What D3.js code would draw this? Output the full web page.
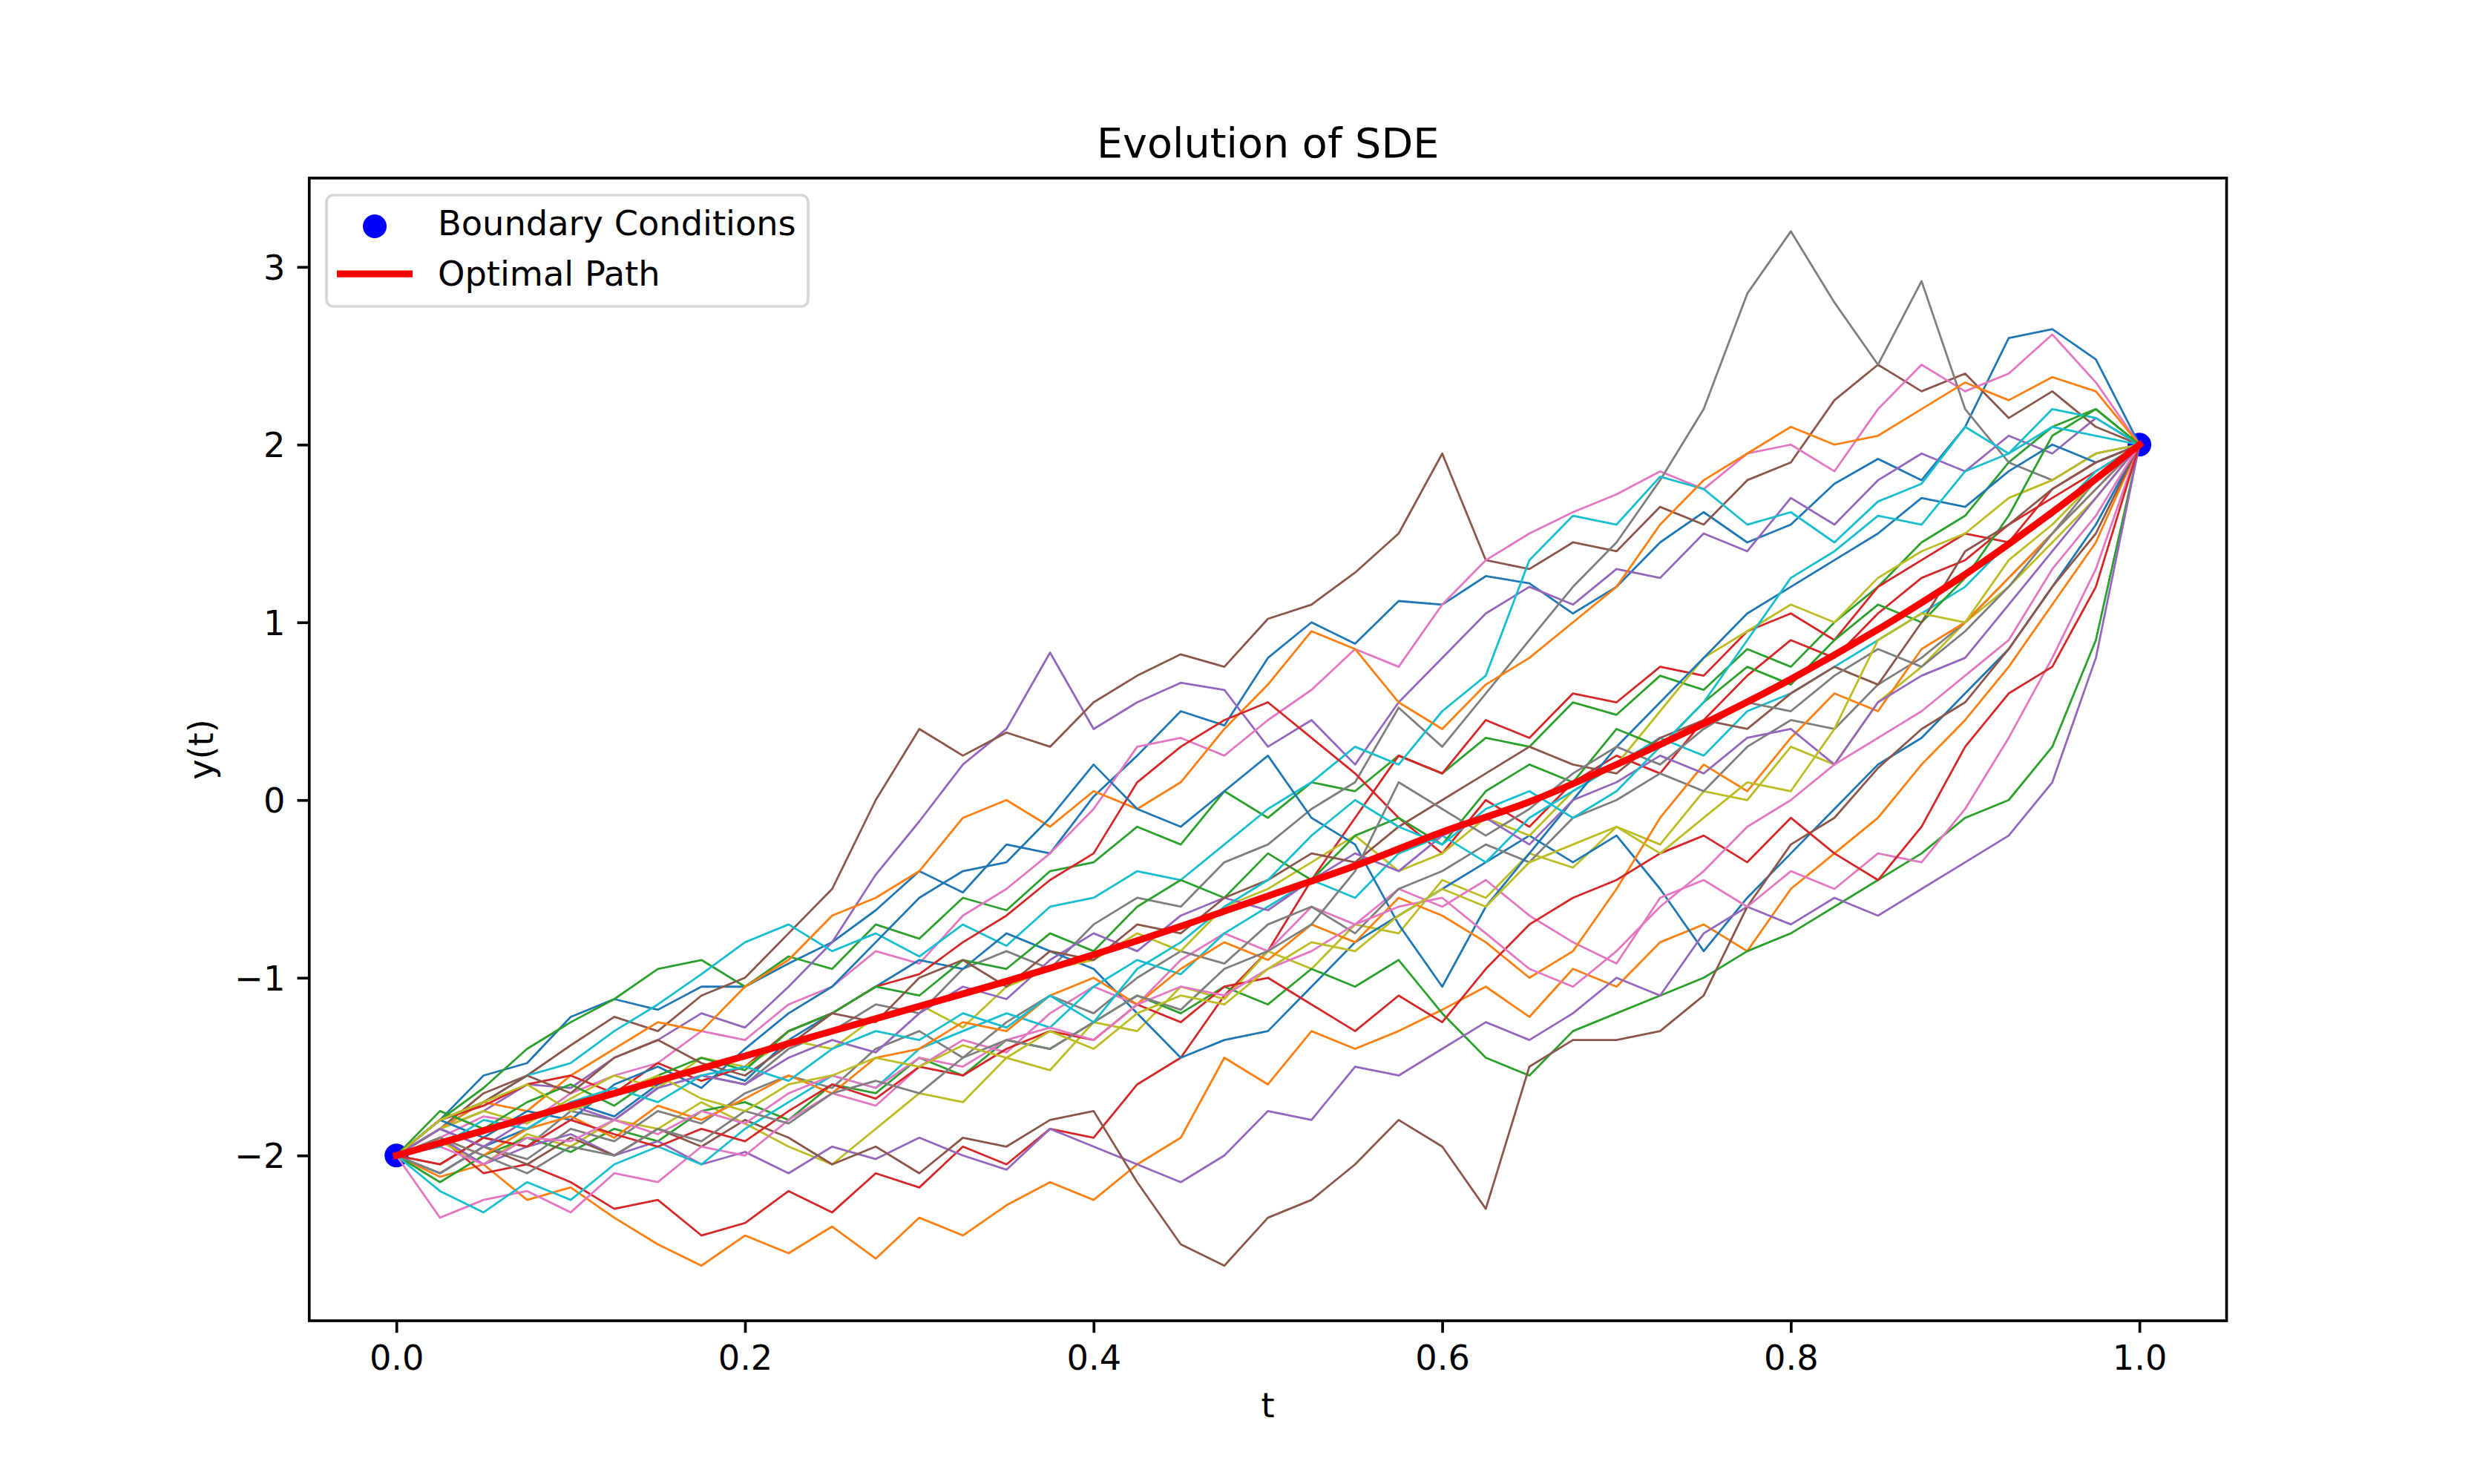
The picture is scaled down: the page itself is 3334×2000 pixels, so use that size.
<!DOCTYPE html>
<html>
<head>
<meta charset="utf-8">
<script src="https://cdn.jsdelivr.net/npm/d3@7"></script>
<style>
  body { margin: 0; background: #fff; }
  text { font-family: "DejaVu Sans", sans-serif; }
</style>
</head>
<body>
<div id="chart"></div>
<script>
// time grid of the sampled paths
const tGrid = [0, 0.025, 0.05, 0.075, 0.1, 0.125, 0.15, 0.175, 0.2, 0.225,
  0.25, 0.275, 0.3, 0.325, 0.35, 0.375, 0.4, 0.425, 0.45, 0.475,
  0.5, 0.525, 0.55, 0.575, 0.6, 0.625, 0.65, 0.675, 0.7, 0.725,
  0.75, 0.775, 0.8, 0.825, 0.85, 0.875, 0.9, 0.925, 0.95, 0.975, 1.0];

// simulated paths
const path00 = [-2.00,-1.80,-1.55,-1.48,-1.22,-1.12,-1.18,-1.05,-1.05,-0.92, -0.80,-0.62,-0.40,-0.52,-0.25,-0.30,0.02,0.25,0.50,0.42, 0.80,1.00,0.88,1.12,1.10,1.26,1.22,1.05,1.20,1.45, 1.62,1.45,1.55,1.78,1.92,1.80,2.10,2.60,2.65,2.48, 2.00];
const path01 = [-2.00,-2.12,-2.05,-2.25,-2.18,-2.35,-2.50,-2.62,-2.45,-2.55, -2.40,-2.58,-2.35,-2.45,-2.28,-2.15,-2.25,-2.05,-1.90,-1.45, -1.60,-1.30,-1.40,-1.30,-1.18,-1.05,-1.22,-0.95,-1.05,-0.80, -0.70,-0.85,-0.50,-0.30,-0.10,0.20,0.45,0.75,1.10,1.45, 2.00];
const path02 = [-2.00,-1.80,-1.62,-1.40,-1.25,-1.12,-0.95,-0.90,-1.05,-0.88, -0.95,-0.70,-0.78,-0.55,-0.62,-0.40,-0.35,-0.15,-0.25,0.05, -0.10,0.10,0.05,0.25,0.15,0.35,0.30,0.55,0.48,0.70, 0.62,0.85,0.75,1.00,1.20,1.45,1.60,1.90,2.10,2.20, 2.00];
const path03 = [-2.00,-1.90,-2.10,-2.05,-2.15,-2.30,-2.25,-2.45,-2.38,-2.20, -2.32,-2.10,-2.18,-1.95,-2.05,-1.85,-1.90,-1.60,-1.45,-1.10, -0.85,-0.45,-0.10,0.25,0.15,0.45,0.35,0.60,0.55,0.75, 0.70,0.95,1.05,0.90,1.20,1.35,1.50,1.45,1.75,1.90, 2.00];
const path04 = [-2.00,-1.85,-1.75,-1.60,-1.62,-1.45,-1.35,-1.20,-1.28,-1.05, -0.80,-0.42,-0.12,0.20,0.40,0.83,0.40,0.55,0.66,0.62, 0.30,0.45,0.20,0.55,0.80,1.05,1.20,1.10,1.30,1.25, 1.50,1.40,1.70,1.55,1.80,1.95,1.85,2.05,1.95,2.15, 2.00];
const path05 = [-2.00,-1.85,-1.65,-1.55,-1.38,-1.22,-1.30,-1.10,-1.00,-0.75, -0.50,0.00,0.40,0.25,0.38,0.30,0.55,0.70,0.82,0.75, 1.02,1.10,1.28,1.50,1.95,1.35,1.30,1.45,1.40,1.65, 1.55,1.80,1.90,2.25,2.45,2.30,2.40,2.15,2.30,2.10, 2.00];
const path06 = [-2.00,-1.90,-1.78,-1.82,-1.65,-1.55,-1.48,-1.30,-1.35,-1.15, -1.05,-0.85,-0.92,-0.65,-0.50,-0.30,-0.05,0.30,0.35,0.25, 0.45,0.62,0.85,0.75,1.10,1.35,1.50,1.62,1.72,1.85, 1.75,1.95,2.00,1.85,2.20,2.45,2.30,2.40,2.62,2.35, 2.00];
const path07 = [-2.00,-2.05,-1.90,-1.95,-1.75,-1.80,-1.62,-1.55,-1.60,-1.40, -1.30,-1.15,-1.20,-0.95,-0.85,-0.95,-0.70,-0.55,-0.60,-0.35, -0.25,-0.05,0.10,0.52,0.30,0.60,0.90,1.20,1.45,1.80, 2.20,2.85,3.20,2.80,2.45,2.92,2.20,1.90,1.80,1.95, 2.00];
const path08 = [-2.00,-1.92,-2.05,-1.88,-1.95,-1.80,-1.85,-1.70,-1.82,-1.95, -2.05,-1.85,-1.65,-1.70,-1.45,-1.52,-1.25,-1.30,-1.05,-1.12, -0.85,-0.95,-0.70,-0.75,-0.45,-0.55,-0.30,-0.38,-0.15,-0.25, 0.05,0.00,0.30,0.20,0.55,0.75,1.00,1.20,1.45,1.70, 2.00];
const path09 = [-2.00,-1.85,-1.70,-1.55,-1.48,-1.30,-1.15,-0.98,-0.80,-0.70, -0.85,-0.75,-0.88,-0.70,-0.82,-0.60,-0.55,-0.40,-0.45,-0.25, -0.05,0.10,0.30,0.20,0.50,0.70,1.35,1.60,1.55,1.82, 1.75,1.55,1.62,1.45,1.68,1.78,2.10,1.95,2.20,2.15, 2.00];
const path10 = [-2.00,-2.10,-1.95,-1.85,-1.70,-1.78,-1.60,-1.50,-1.58,-1.35, -1.20,-1.05,-0.90,-0.95,-0.75,-0.85,-0.95,-1.20,-1.45,-1.35, -1.30,-1.05,-0.80,-0.65,-0.50,-0.35,-0.20,-0.35,-0.20,-0.50, -0.85,-0.55,-0.30,-0.05,0.20,0.35,0.60,0.85,1.20,1.55, 2.00];
const path11 = [-2.00,-1.85,-1.70,-1.75,-1.55,-1.40,-1.25,-1.30,-1.05,-0.90, -0.65,-0.55,-0.40,-0.10,0.00,-0.15,0.05,-0.05,0.10,0.40, 0.65,0.95,0.85,0.55,0.40,0.65,0.80,1.00,1.20,1.55, 1.80,1.95,2.10,2.00,2.05,2.20,2.35,2.25,2.38,2.30, 2.00];
const path12 = [-2.00,-2.15,-2.00,-1.90,-1.98,-1.85,-1.92,-1.75,-1.70,-1.80, -1.60,-1.65,-1.45,-1.55,-1.35,-1.40,-1.25,-1.10,-1.20,-1.05, -1.15,-0.95,-1.05,-0.90,-1.20,-1.45,-1.55,-1.30,-1.20,-1.10, -1.00,-0.85,-0.75,-0.60,-0.45,-0.30,-0.10,0.00,0.30,0.90, 2.00];
const path13 = [-2.00,-1.80,-1.72,-1.60,-1.55,-1.65,-1.48,-1.58,-1.50,-1.30, -1.20,-1.05,-0.98,-0.80,-0.65,-0.45,-0.30,0.10,0.30,0.45, 0.55,0.35,0.15,-0.10,-0.30,0.00,-0.15,0.10,0.25,0.15, 0.45,0.70,0.90,0.80,1.05,1.25,1.35,1.55,1.70,1.85, 2.00];
const path14 = [-2.00,-1.90,-2.05,-1.95,-1.88,-2.00,-1.92,-2.05,-1.98,-2.10, -1.95,-2.02,-1.90,-2.00,-2.08,-1.85,-1.95,-2.05,-2.15,-2.00, -1.75,-1.80,-1.50,-1.55,-1.40,-1.25,-1.35,-1.20,-1.00,-1.10, -0.75,-0.60,-0.70,-0.55,-0.65,-0.50,-0.35,-0.20,0.10,0.80, 2.00];
const path15 = [-2.00,-1.85,-1.95,-2.05,-1.90,-2.00,-1.85,-1.95,-1.80,-1.90, -2.05,-1.95,-2.10,-1.90,-1.95,-1.80,-1.75,-2.15,-2.50,-2.62, -2.35,-2.25,-2.05,-1.80,-1.95,-2.30,-1.50,-1.35,-1.35,-1.30, -1.10,-0.60,-0.25,-0.10,0.18,0.40,0.55,0.85,1.20,1.50, 2.00];
const path16 = [-2.00,-2.35,-2.25,-2.20,-2.32,-2.10,-2.15,-1.95,-2.00,-1.80, -1.65,-1.72,-1.50,-1.35,-1.42,-1.20,-1.05,-1.15,-0.90,-0.75, -0.85,-0.60,-0.70,-0.50,-0.60,-0.45,-0.65,-0.80,-0.92,-0.55, -0.45,-0.60,-0.40,-0.50,-0.30,-0.35,-0.05,0.35,0.80,1.30, 2.00];
const path17 = [-2.00,-2.10,-1.95,-2.02,-1.85,-1.92,-1.75,-1.82,-1.65,-1.55, -1.62,-1.40,-1.30,-1.45,-1.25,-1.10,-1.20,-1.00,-0.85,-0.92, -0.70,-0.60,-0.75,-0.50,-0.40,-0.25,-0.35,-0.10,0.00,0.15, 0.05,0.30,0.45,0.40,0.65,0.80,1.00,1.25,1.50,1.80, 2.00];
const path18 = [-2.00,-1.85,-1.75,-1.82,-1.68,-1.55,-1.62,-1.45,-1.50,-1.35, -1.40,-1.22,-1.15,-1.28,-1.05,-0.95,-0.90,-0.75,-0.85,-0.60, -0.50,-0.35,-0.20,-0.40,-0.30,-0.10,-0.20,0.05,0.20,0.50, 0.80,0.95,1.10,1.00,1.25,1.40,1.50,1.70,1.80,1.95, 2.00];
const path19 = [-2.00,-2.20,-2.32,-2.15,-2.25,-2.05,-1.95,-2.05,-1.85,-1.70, -1.55,-1.62,-1.40,-1.30,-1.20,-1.28,-1.05,-0.90,-0.98,-0.75, -0.60,-0.45,-0.55,-0.30,-0.20,-0.35,-0.10,0.05,0.20,0.35, 0.25,0.50,0.60,0.75,0.90,1.05,1.20,1.45,1.60,1.85, 2.00];
const path20 = [-2.00,-1.80,-1.90,-1.75,-1.80,-1.60,-1.50,-1.62,-1.40,-1.20, -1.05,-0.80,-0.55,-0.40,-0.35,-0.10,0.20,-0.05,-0.15,0.05, 0.25,-0.10,-0.25,-0.70,-1.05,-0.60,-0.30,0.00,0.30,0.55, 0.80,1.05,1.20,1.35,1.50,1.70,1.65,1.85,2.00,1.90, 2.00];
const path21 = [-2.00,-1.90,-2.00,-1.85,-1.78,-1.90,-1.72,-1.80,-1.68,-1.55, -1.65,-1.45,-1.40,-1.25,-1.30,-1.10,-1.00,-1.15,-0.95,-0.80, -0.90,-0.70,-0.80,-0.55,-0.65,-0.80,-1.00,-0.85,-0.50,-0.10, 0.20,0.05,0.35,0.60,0.50,0.85,1.00,1.25,1.50,1.75, 2.00];
const path22 = [-2.00,-1.75,-1.85,-1.70,-1.60,-1.72,-1.55,-1.45,-1.52,-1.30, -1.20,-1.05,-1.10,-0.90,-0.95,-0.75,-0.85,-0.60,-0.45,-0.55, -0.30,-0.45,-0.20,-0.10,-0.25,0.05,0.20,0.10,0.40,0.30, 0.55,0.75,0.65,0.90,1.10,1.00,1.25,1.60,2.05,2.20, 2.00];
const path23 = [-2.00,-2.05,-1.90,-1.95,-1.80,-1.88,-1.95,-1.85,-1.92,-1.75, -1.60,-1.68,-1.50,-1.55,-1.40,-1.30,-1.35,-1.15,-1.25,-1.05, -1.00,-1.15,-1.30,-1.10,-1.25,-0.95,-0.70,-0.55,-0.45,-0.30, -0.20,-0.35,-0.10,-0.30,-0.45,-0.15,0.30,0.60,0.75,1.20, 2.00];
const path24 = [-2.00,-1.85,-1.95,-1.80,-1.72,-1.80,-1.62,-1.55,-1.60,-1.45, -1.35,-1.42,-1.20,-1.05,-1.12,-0.90,-0.75,-0.85,-0.65,-0.55, -0.62,-0.45,-0.30,-0.40,-0.20,-0.10,-0.25,0.00,0.10,0.25, 0.15,0.35,0.40,0.20,0.55,0.70,0.80,1.10,1.40,1.70, 2.00];
const path25 = [-2.00,-1.80,-1.70,-1.55,-1.65,-1.45,-1.35,-1.48,-1.55,-1.38, -1.20,-1.25,-1.00,-0.90,-1.05,-0.85,-0.90,-0.70,-0.75,-0.55, -0.45,-0.30,-0.35,-0.15,0.00,0.15,0.30,0.20,0.15,0.35, 0.45,0.40,0.60,0.75,0.65,1.00,1.40,1.55,1.75,1.90, 2.00];
const path26 = [-2.00,-1.95,-2.05,-1.90,-1.92,-1.80,-1.88,-1.75,-1.82,-1.65, -1.55,-1.62,-1.45,-1.50,-1.35,-1.28,-1.35,-1.15,-1.05,-1.10, -0.95,-0.85,-0.70,-0.60,-0.55,-0.75,-0.95,-1.05,-0.85,-0.60, -0.40,-0.15,0.00,0.20,0.35,0.50,0.70,0.90,1.30,1.60, 2.00];
const path27 = [-2.00,-1.90,-2.00,-2.10,-1.95,-2.00,-1.85,-1.92,-1.75,-1.82, -1.65,-1.58,-1.65,-1.45,-1.35,-1.40,-1.25,-1.10,-1.18,-0.95, -0.85,-0.70,-0.40,0.10,-0.05,-0.20,-0.05,0.15,0.30,0.20, 0.40,0.55,0.50,0.70,0.85,0.75,0.95,1.20,1.50,1.75, 2.00];
const path28 = [-2.00,-1.80,-1.70,-1.60,-1.75,-1.65,-1.55,-1.68,-1.75,-1.60, -1.55,-1.45,-1.50,-1.38,-1.45,-1.30,-1.40,-1.20,-1.10,-1.15, -0.95,-0.80,-0.85,-0.65,-0.50,-0.60,-0.35,-0.25,-0.15,-0.30, -0.10,0.10,0.05,0.40,0.90,1.05,1.00,1.35,1.55,1.80, 2.00];
const path29 = [-2.00,-1.95,-1.80,-1.85,-1.70,-1.62,-1.70,-1.55,-1.50,-1.58, -1.40,-1.30,-1.35,-1.20,-1.28,-1.10,-1.25,-0.95,-0.80,-0.60, -0.45,-0.20,0.00,-0.15,-0.25,-0.05,0.05,-0.10,0.05,0.30, 0.55,0.90,1.25,1.40,1.60,1.55,1.85,1.95,2.10,2.05, 2.00];

const paths = [path00, path01, path02, path03, path04, path05, path06, path07, path08, path09,
  path10, path11, path12, path13, path14, path15, path16, path17, path18, path19,
  path20, path21, path22, path23, path24, path25, path26, path27, path28, path29];

// optimal path
const optimalT = [0, 0.05, 0.1, 0.15, 0.2, 0.25, 0.3, 0.35, 0.4, 0.45, 0.5,
  0.55, 0.6, 0.65, 0.7, 0.75, 0.8, 0.85, 0.9, 0.95, 1.0];
const optimalY = [-2.00, -1.86, -1.72, -1.58, -1.44, -1.30, -1.16, -1.02, -0.87, -0.71, -0.54,
  -0.37, -0.18, -0.01, 0.20, 0.43, 0.68, 0.96, 1.27, 1.62, 2.00];

// boundary conditions
const boundaryT = [0, 1];
const boundaryY = [-2, 2];

const xTicks = [0, 0.2, 0.4, 0.6, 0.8, 1.0];
const yTicks = [-2, -1, 0, 1, 2, 3];

const W = 3334, H = 2000;
const axLeft = 416.75, axRight = 3000.6, axTop = 240, axBottom = 1780;
const fs = 46.3;

const svg = d3.select("#chart").append("svg")
  .attr("width", W).attr("height", H)
  .style("background", "#fff");

const x = d3.scaleLinear().domain([-0.05, 1.05]).range([axLeft, axRight]);
const y = d3.scaleLinear().domain([-2.93, 3.50]).range([axBottom, axTop]);

// boundary dots (drawn under the lines)
svg.append("g").selectAll("circle")
  .data(boundaryT.map((t, i) => ({t, v: boundaryY[i]})))
  .enter().append("circle")
  .attr("cx", d => x(d.t))
  .attr("cy", d => y(d.v))
  .attr("r", 16)
  .attr("fill", "#0000ff");

const line = d3.line()
  .x((d, i) => x(tGrid[i]))
  .y(d => y(d));

svg.append("g").selectAll("path")
  .data(paths)
  .enter().append("path")
  .attr("d", line)
  .attr("fill", "none")
  .attr("stroke", (d, i) => d3.schemeCategory10[i % 10])
  .attr("stroke-width", 2.8)
  .attr("stroke-linejoin", "round");

const optLine = d3.line()
  .x((d, i) => x(optimalT[i]))
  .y(d => y(d))
  .curve(d3.curveMonotoneX);

svg.append("path")
  .attr("d", optLine(optimalY))
  .attr("fill", "none")
  .attr("stroke", "#ff0000")
  .attr("stroke-width", 9.25)
  .attr("stroke-linecap", "square");

// axes
const xAxis = d3.axisBottom(x)
  .tickValues(xTicks)
  .tickFormat(d3.format(".1f"))
  .tickSize(16.2)
  .tickSizeOuter(0)
  .tickPadding(16.5);

const yAxis = d3.axisLeft(y)
  .tickValues(yTicks)
  .tickFormat(d => d < 0 ? "\u2212" + Math.abs(d) : String(d))
  .tickSize(16.2)
  .tickSizeOuter(0)
  .tickPadding(16.2);

const gx = svg.append("g")
  .attr("transform", "translate(0," + axBottom + ")")
  .call(xAxis);
const gy = svg.append("g")
  .attr("transform", "translate(" + axLeft + ",0)")
  .call(yAxis);

[gx, gy].forEach(g => {
  g.select(".domain").remove();
  g.selectAll(".tick line").attr("stroke", "#000").attr("stroke-width", 3.7);
  g.selectAll(".tick text")
    .attr("fill", "#000")
    .style("font-family", "DejaVu Sans")
    .style("font-size", fs + "px");
});
gy.selectAll(".tick text").attr("dy", "0.36em");

// frame
svg.append("rect")
  .attr("x", axLeft).attr("y", axTop)
  .attr("width", axRight - axLeft).attr("height", axBottom - axTop)
  .attr("fill", "none")
  .attr("stroke", "#000")
  .attr("stroke-width", 3.7);

// title and labels
svg.append("text")
  .attr("x", (axLeft + axRight) / 2).attr("y", 212)
  .attr("text-anchor", "middle")
  .style("font-size", "55.6px")
  .text("Evolution of SDE");

svg.append("text")
  .attr("x", (axLeft + axRight) / 2).attr("y", 1910)
  .attr("text-anchor", "middle")
  .style("font-size", fs + "px")
  .text("t");

svg.append("text")
  .attr("transform", "translate(287," + (axTop + axBottom) / 2 + ") rotate(-90)")
  .attr("text-anchor", "middle")
  .style("font-size", fs + "px")
  .text("y(t)");

// legend
const lg = svg.append("g");
lg.append("rect")
  .attr("x", 440).attr("y", 263)
  .attr("width", 649).attr("height", 150)
  .attr("rx", 9.3).attr("ry", 9.3)
  .attr("fill", "#fff").attr("fill-opacity", 0.8)
  .attr("stroke", "#d6d6d6").attr("stroke-width", 3.7);
lg.append("circle")
  .attr("cx", 505).attr("cy", 305).attr("r", 16)
  .attr("fill", "#0000ff");
lg.append("line")
  .attr("x1", 454).attr("x2", 556)
  .attr("y1", 369).attr("y2", 369)
  .attr("stroke", "#ff0000").attr("stroke-width", 9.25);
lg.append("text")
  .attr("x", 590).attr("y", 317)
  .style("font-size", fs + "px")
  .text("Boundary Conditions");
lg.append("text")
  .attr("x", 590).attr("y", 385)
  .style("font-size", fs + "px")
  .text("Optimal Path");
</script>
</body>
</html>
